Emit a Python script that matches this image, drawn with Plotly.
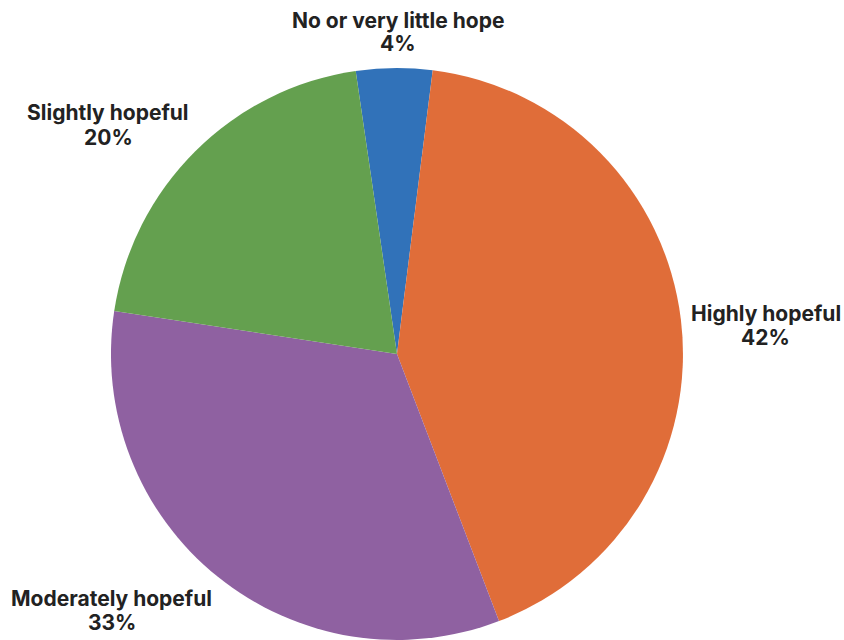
import plotly.graph_objects as go

labels = ["No or very little hope", "Highly hopeful", "Moderately hopeful", "Slightly hopeful"]
values = [4.3, 42.2, 33.2, 20.3]
pct_labels = ["4%", "42%", "33%", "20%"]
colors = ["#3172b9", "#e06d39", "#8f61a1", "#64a04f"]

# label placement (paper coords): x centre, y of name line, y of percent line
label_pos = [
    (0.4716, 0.9672, 0.9313),
    (0.9070, 0.5109, 0.4734),
    (0.1327, 0.0656, 0.0281),
    (0.1280, 0.8250, 0.7859),
]

fig = go.Figure(go.Pie(
    labels=labels,
    values=values,
    sort=False,
    direction="clockwise",
    rotation=-8.3,
    marker=dict(colors=colors, line=dict(width=0)),
    textinfo="none",
    domain=dict(x=[0.1315, 0.8092], y=[0.0, 0.894]),
    showlegend=False,
    hoverinfo="label+percent",
))

font = dict(family="Inter", size=21, color="#222222")
for lab, pct, (px, y1, y2) in zip(labels, pct_labels, label_pos):
    fig.add_annotation(x=px, y=y1, xref="paper", yref="paper",
                       xanchor="center", yanchor="middle",
                       text=f"<b>{lab}</b>", showarrow=False, font=font)
    fig.add_annotation(x=px, y=y2, xref="paper", yref="paper",
                       xanchor="center", yanchor="middle",
                       text=f"<b>{pct}</b>", showarrow=False, font=font)

fig.update_layout(
    width=844, height=640,
    margin=dict(l=0, r=0, t=0, b=0),
    paper_bgcolor="white",
    plot_bgcolor="white",
)

fig.write_html("out.html", config={"displayModeBar": False},
               post_script="document.body.style.margin='0';")
